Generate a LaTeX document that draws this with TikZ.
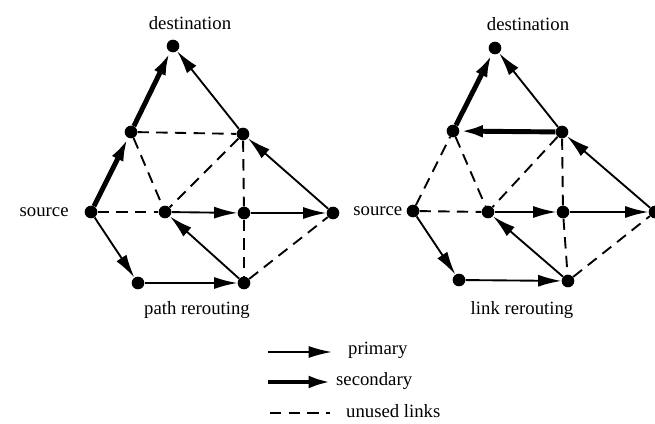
\documentclass[tikz,border=0pt]{standalone}
\usepackage{fontspec}
\setmainfont{Liberation Serif}
\usetikzlibrary{arrows.meta}

\begin{document}
\begin{tikzpicture}[x=0.3mm,y=-0.3mm,
    every node/.style={font=\fontsize{16}{19}\selectfont},
    dot/.style={circle,fill,inner sep=0pt,minimum size=3.8mm},
    prim/.style={line width=1.6pt,-{Latex[length=7mm,width=3.6mm]}},
    sec/.style={line width=4.2pt,-{Latex[length=7mm,width=3.8mm]}},
    unused/.style={line width=1.6pt,dash pattern=on 3.4mm off 2.2mm}]
      \useasboundingbox (0,0) rectangle (655,424);

      % path rerouting
      \node (ld) at (173,46) [dot]{};
      \node (la) at (131,132) [dot]{};
      \node (lb) at (243,134) [dot]{};
      \node (ls) at (91,212) [dot, label={[label distance=3.5mm]left:source}]{};
      \node (lc) at (165,212) [dot]{};
      \node (le) at (244,213) [dot]{};
      \node (lf) at (333,213) [dot]{};
      \node (lg) at (138,283) [dot]{};
      \node (lh) at (244,283) [dot]{};

      \node (ldest) at (190,23) {destination};
      \node (lname) at (197,310) {path rerouting};

      \draw[unused] (la) -- (lb);
      \draw[unused] (la) -- (lc);
      \draw[unused] (lb) -- (lc);
      \draw[unused] (lb) -- (le);
      \draw[unused] (ls) -- (lc);
      \draw[unused] (le) -- (lh);
      \draw[unused] (lh) -- (lf);

      \draw[sec] (ls) -- (la);
      \draw[sec] (la) -- (ld);
      \draw[prim] (ls) -- (lg);
      \draw[prim] (lg) -- (lh);
      \draw[prim] (lh) -- (lc);
      \draw[prim] (lc) -- (le);
      \draw[prim] (le) -- (lf);
      \draw[prim] (lf) -- (lb);
      \draw[prim] (lb) -- (ld);

      % link rerouting
      \node (rd) at (495,48) [dot]{};
      \node (ra) at (453,131) [dot]{};
      \node (rb) at (562,132) [dot]{};
      \node (rs) at (413,211) [dot, label={[label distance=0mm]left:source}]{};
      \node (rc) at (488,212) [dot]{};
      \node (re) at (563,212) [dot]{};
      \node (rf) at (655,212) [dot]{};
      \node (rg) at (459,280) [dot]{};
      \node (rh) at (568,281) [dot]{};

      \node (rdest) at (528,24) {destination};
      \node (rname) at (522,310) {link rerouting};

      \draw[unused] (rs) -- (ra);
      \draw[unused] (ra) -- (rc);
      \draw[unused] (rb) -- (rc);
      \draw[unused] (rb) -- (re);
      \draw[unused] (rs) -- (rc);
      \draw[unused] (re) -- (rh);
      \draw[unused] (rh) -- (rf);

      \draw[sec] (rb) -- (ra);
      \draw[sec] (ra) -- (rd);
      \draw[prim] (rs) -- (rg);
      \draw[prim] (rg) -- (rh);
      \draw[prim] (rh) -- (rc);
      \draw[prim] (rc) -- (re);
      \draw[prim] (re) -- (rf);
      \draw[prim] (rf) -- (rb);
      \draw[prim] (rb) -- (rd);

      % legend
      \coordinate (p1) at (268,352);
      \coordinate (p2) at (332,352);
      \coordinate (s1) at (268,382);
      \coordinate (s2) at (332,382);
      \coordinate (u1) at (270,413);
      \coordinate (u2) at (330,413);
      \draw[prim] (p1) -- (p2);
      \draw[sec] (s1) -- (s2);
      \draw[unused] (u1) -- (u2);
      \node[anchor=west] (tprim) at (344,350) {primary};
      \node[anchor=west] (tsec) at (332,381) {secondary};
      \node[anchor=west] (tunused) at (342,411) {unused links};
    \end{tikzpicture}
\end{document}
